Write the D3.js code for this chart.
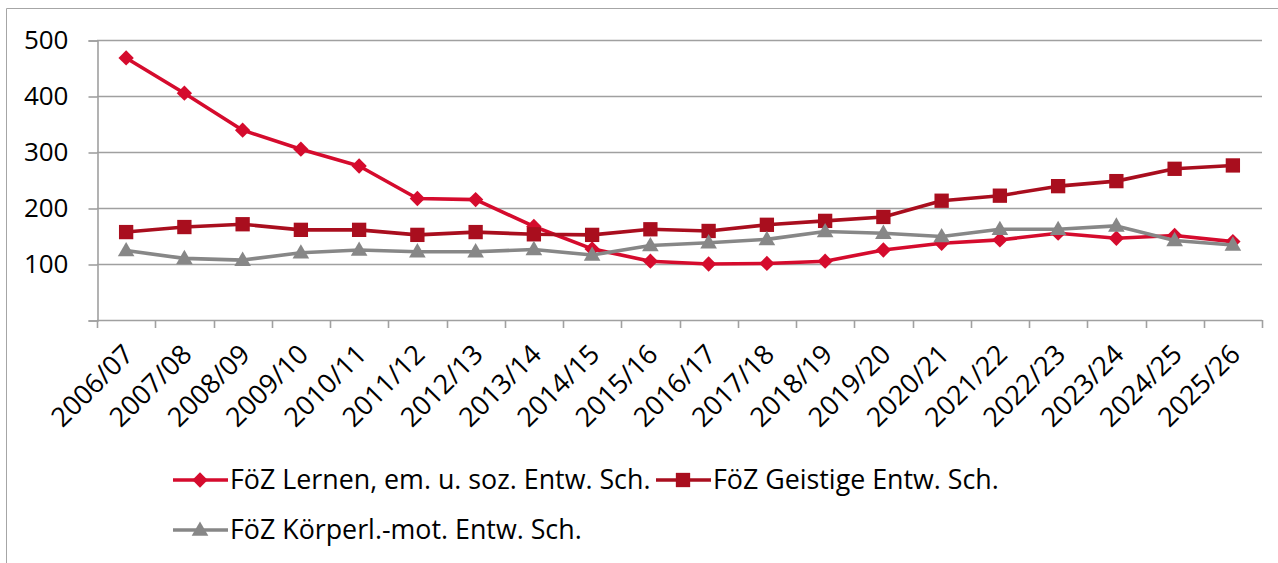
<!DOCTYPE html>
<html>
<head>
<meta charset="utf-8">
<script src="https://cdn.jsdelivr.net/npm/d3@7"></script>
<style>
  body { margin: 0; background: #fff; }
  svg { display: block; font-family: "Open Sans", "Noto Sans", sans-serif; }
</style>
</head>
<body>
<div id="chart"></div>
<script>
// school years
var years = ["2006/07","2007/08","2008/09","2009/10","2010/11","2011/12","2012/13","2013/14","2014/15","2015/16",
             "2016/17","2017/18","2018/19","2019/20","2020/21","2021/22","2022/23","2023/24","2024/25","2025/26"];
// values
var lernen   = [468, 405, 339, 305, 275, 217, 215, 167, 127, 105, 100, 101, 105, 125, 137, 143, 155, 146, 151, 140];
var geistige = [157, 166, 171, 161, 161, 152, 157, 153, 152, 162, 159, 170, 177, 184, 213, 222, 239, 248, 270, 276];
var koerper  = [124, 110, 107, 120, 125, 122, 122, 126, 116, 133, 138, 144, 158, 155, 149, 162, 162, 168, 142, 134];
var yTicks = [0, 100, 200, 300, 400, 500];

var series = [
  {name: "FöZ Lernen, em. u. soz. Entw. Sch.", values: lernen, color: "#d50b2d", marker: "diamond"},
  {name: "FöZ Geistige Entw. Sch.", values: geistige, color: "#a90e1e", marker: "square"},
  {name: "FöZ Körperl.-mot. Entw. Sch.", values: koerper, color: "#878787", marker: "triangle"}
];

var svgWidth = 1278, svgHeight = 563;
var plotLeft = 97, plotRight = 1262, plotTop = 40, plotBottom = 320;

var svg = d3.select("#chart").append("svg")
  .attr("width", svgWidth)
  .attr("height", svgHeight);

// outer frame
svg.append("path")
  .attr("d", "M6.5," + svgHeight + " V8.5 H" + svgWidth)
  .attr("fill", "none").attr("stroke", "#a6a6a6").attr("stroke-width", 1);

var x = d3.scaleBand().domain(years).range([plotLeft, plotRight]).padding(0);
var y = d3.scaleLinear().domain([0, 500]).range([plotBottom, plotTop]);
var cx = function(i) { return x(years[i]) + x.bandwidth() / 2; };

// gridlines
svg.append("g").selectAll("line")
  .data(yTicks.filter(function(d) { return d > 0; }))
  .enter().append("line")
  .attr("x1", plotLeft).attr("x2", plotRight)
  .attr("y1", function(d) { return Math.round(y(d)) + 0.5; })
  .attr("y2", function(d) { return Math.round(y(d)) + 0.5; })
  .attr("stroke", "#a0a0a0").attr("stroke-width", 1.6);

// y axis
var yAxis = svg.append("g")
  .attr("transform", "translate(" + (plotLeft + 0.5) + ",0.5)")
  .call(d3.axisLeft(y).tickValues(yTicks).tickSize(9).tickPadding(20)
        .tickFormat(function(d) { return d === 0 ? "" : d; }));
yAxis.select(".domain").attr("stroke", "#a0a0a0").attr("stroke-width", 1.6);
yAxis.selectAll(".tick line").attr("stroke", "#a0a0a0").attr("stroke-width", 1.6);
yAxis.selectAll(".tick text").attr("font-size", 26).attr("fill", "#000")
  .attr("font-family", "Open Sans, Noto Sans, sans-serif");

// x axis: ticks at band boundaries
var xg = svg.append("g");
xg.append("line")
  .attr("x1", plotLeft).attr("x2", plotRight)
  .attr("y1", plotBottom + 0.5).attr("y2", plotBottom + 0.5)
  .attr("stroke", "#a0a0a0").attr("stroke-width", 1.6);
var bounds = years.map(function(d) { return x(d); }).concat([plotRight]);
xg.selectAll(".xt").data(bounds).enter().append("line")
  .attr("x1", function(d) { return Math.round(d) + 0.5; })
  .attr("x2", function(d) { return Math.round(d) + 0.5; })
  .attr("y1", plotBottom).attr("y2", plotBottom + 8)
  .attr("stroke", "#a0a0a0").attr("stroke-width", 1.6);
xg.selectAll(".xl").data(years).enter().append("text")
  .attr("text-anchor", "end")
  .attr("font-size", 27)
  .attr("fill", "#000")
  .attr("transform", function(d, i) { return "translate(" + (cx(i) + 9) + "," + (plotBottom + 36) + ") rotate(-45)"; })
  .text(function(d) { return d; });

function markerPath(type) {
  if (type === "diamond") return d3.symbol().type(d3.symbolDiamond2).size(150)();
  if (type === "square") return d3.symbol().type(d3.symbolSquare).size(205)();
  return d3.symbol().type(d3.symbolTriangle).size(120)();
}

var line = d3.line()
  .x(function(d, i) { return cx(i); })
  .y(function(d) { return y(d); });

series.forEach(function(s) {
  var g = svg.append("g");
  g.append("path")
    .datum(s.values)
    .attr("d", line)
    .attr("fill", "none")
    .attr("stroke", s.color)
    .attr("stroke-width", 3.6)
    .attr("stroke-linejoin", "round");
  g.selectAll("path.m").data(s.values).enter().append("path")
    .attr("class", "m")
    .attr("d", markerPath(s.marker))
    .attr("transform", function(d, i) {
      var off = s.marker === "triangle" ? 1 : 0;
      return "translate(" + cx(i) + "," + (y(d) + off) + ")";
    })
    .attr("fill", s.color);
});

// legend
var legendItems = [
  {s: series[0], x: 173, y: 480},
  {s: series[1], x: 656, y: 480},
  {s: series[2], x: 173, y: 530}
];
legendItems.forEach(function(it) {
  var g = svg.append("g").attr("transform", "translate(" + it.x + "," + it.y + ")");
  g.append("line").attr("x1", 0).attr("x2", 55).attr("y1", 0).attr("y2", 0)
    .attr("stroke", it.s.color).attr("stroke-width", 3.6);
  g.append("path").attr("d", markerPath(it.s.marker))
    .attr("transform", "translate(27," + (it.s.marker === "triangle" ? 1 : 0) + ")")
    .attr("fill", it.s.color);
  g.append("text").attr("x", 57).attr("y", 9)
    .attr("font-size", 26.8).attr("fill", "#000")
    .text(it.s.name);
});
</script>
</body>
</html>
